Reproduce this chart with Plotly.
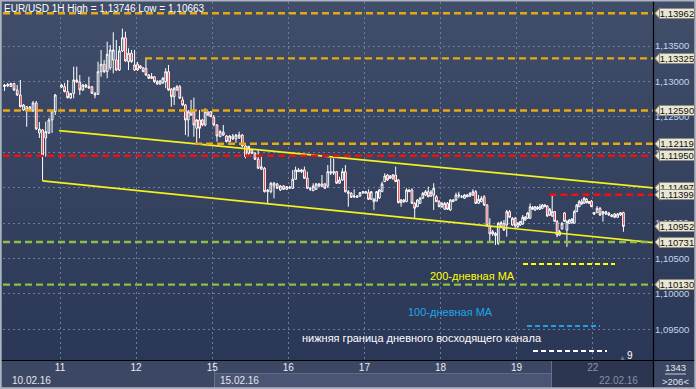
import plotly.graph_objects as go

# ---------------- data ----------------
day_ticks = [1, 2, 3, 4, 5, 6, 7, 8]          # trading-day index (Feb 10 = 0)
day_labels = ["11", "12", "15", "16", "17", "18", "19", "22"]

# hourly candles (open, high, low, close)
feb10 = [
    (1.12928, 1.12964, 1.12865, 1.12949), (1.12935, 1.12978, 1.12921, 1.12956),
    (1.12928, 1.12978, 1.12921, 1.12971), (1.12971, 1.12978, 1.12865, 1.12879),
    (1.12879, 1.12949, 1.12794, 1.12808), (1.12808, 1.13020, 1.12632, 1.12643),
    (1.12596, 1.12682, 1.12582, 1.12667), (1.12643, 1.12653, 1.12360, 1.12596),
    (1.12596, 1.12653, 1.12582, 1.12639), (1.12582, 1.12724, 1.12568, 1.12696),
    (1.12696, 1.12724, 1.12314, 1.12328), (1.12272, 1.12427, 1.12201, 1.12328),
    (1.12314, 1.12328, 1.11594, 1.11960), (1.12201, 1.12431, 1.11936, 1.12290),
    (1.12272, 1.12483, 1.12258, 1.12455), (1.12455, 1.12596, 1.12272, 1.12582),
    (1.12572, 1.12823, 1.12525, 1.12808),
]
feb11 = [
    (1.12921, 1.12964, 1.12907, 1.12949), (1.12925, 1.12978, 1.12844, 1.12855),
    (1.12855, 1.13020, 1.12759, 1.12770), (1.12766, 1.12837, 1.12752, 1.12830),
    (1.12830, 1.13208, 1.12762, 1.13020), (1.13020, 1.13208, 1.12978, 1.12992),
    (1.12992, 1.13090, 1.12808, 1.12879), (1.12879, 1.12964, 1.12865, 1.12949),
    (1.12949, 1.12964, 1.12907, 1.12921), (1.12907, 1.13066, 1.12893, 1.12925),
    (1.12925, 1.12935, 1.12823, 1.12832), (1.12832, 1.12851, 1.12762, 1.12808),
    (1.12818, 1.13279, 1.12808, 1.13137), (1.13137, 1.13444, 1.13066, 1.13242),
    (1.13242, 1.13303, 1.13118, 1.13137), (1.13137, 1.13561, 1.13044, 1.13383),
    (1.13190, 1.13514, 1.13161, 1.13444), (1.13303, 1.13694, 1.13114, 1.13444),
    (1.13303, 1.13585, 1.13147, 1.13161), (1.13161, 1.13500, 1.13147, 1.13430),
    (1.13430, 1.13746, 1.13416, 1.13617), (1.13617, 1.13702, 1.13275, 1.13289),
    (1.13279, 1.13468, 1.13161, 1.13397), (1.13397, 1.13444, 1.13261, 1.13279),
    (1.13161, 1.13444, 1.13147, 1.13232),
]
feb12 = [
    (1.13242, 1.13275, 1.13147, 1.13161), (1.13218, 1.13232, 1.13175, 1.13190),
    (1.13190, 1.13204, 1.13133, 1.13137), (1.13186, 1.13327, 1.13076, 1.13090),
    (1.13090, 1.13104, 1.13034, 1.13044), (1.13044, 1.13118, 1.13034, 1.13066),
    (1.13066, 1.13076, 1.12978, 1.12996), (1.12996, 1.13020, 1.12949, 1.12964),
    (1.12964, 1.13020, 1.12949, 1.13006), (1.12978, 1.13062, 1.12964, 1.13044),
    (1.12996, 1.13186, 1.12903, 1.13137), (1.13137, 1.13232, 1.12865, 1.12879),
    (1.12889, 1.12907, 1.12643, 1.12784), (1.12784, 1.12921, 1.12667, 1.12903),
    (1.12879, 1.12949, 1.12865, 1.12925), (1.12925, 1.12949, 1.12752, 1.12762),
    (1.12738, 1.12784, 1.12653, 1.12667), (1.12667, 1.12682, 1.12243, 1.12455),
    (1.12455, 1.12596, 1.12219, 1.12572), (1.12596, 1.12738, 1.12511, 1.12525),
    (1.12572, 1.12770, 1.12219, 1.12384), (1.12338, 1.12469, 1.12126, 1.12455),
    (1.12455, 1.12596, 1.12197, 1.12338), (1.12455, 1.12469, 1.12365, 1.12384),
    (1.12384, 1.12621, 1.12365, 1.12572), (1.12568, 1.12582, 1.12511, 1.12525),
    (1.12572, 1.12582, 1.12497, 1.12501),
]
feb15 = [
    (1.12493, 1.12525, 1.12365, 1.12384), (1.12384, 1.12398, 1.12149, 1.12229),
    (1.12219, 1.12314, 1.12215, 1.12290), (1.12285, 1.12384, 1.12229, 1.12243),
    (1.12229, 1.12243, 1.12138, 1.12149), (1.12149, 1.12243, 1.12138, 1.12229),
    (1.12229, 1.12258, 1.12173, 1.12187), (1.12187, 1.12258, 1.12131, 1.12243),
    (1.12201, 1.12290, 1.12187, 1.12243), (1.12243, 1.12258, 1.12074, 1.12088),
    (1.12088, 1.12102, 1.11914, 1.11936), (1.11984, 1.12088, 1.11936, 1.12083),
    (1.12031, 1.12046, 1.11974, 1.11984), (1.11984, 1.12003, 1.11890, 1.11900),
    (1.11900, 1.12041, 1.11763, 1.11773), (1.11759, 1.11960, 1.11749, 1.11795),
    (1.11773, 1.11792, 1.11431, 1.11442), (1.11442, 1.11480, 1.11278, 1.11466),
    (1.11442, 1.11580, 1.11419, 1.11562), (1.11523, 1.11580, 1.11349, 1.11562),
    (1.11552, 1.11566, 1.11480, 1.11490), (1.11466, 1.11537, 1.11452, 1.11523),
    (1.11523, 1.11537, 1.11466, 1.11476), (1.11476, 1.11523, 1.11466, 1.11513),
]
feb16 = [
    (1.11509, 1.11523, 1.11480, 1.11495), (1.11490, 1.11749, 1.11480, 1.11618),
    (1.11618, 1.11796, 1.11608, 1.11749), (1.11749, 1.11777, 1.11721, 1.11725),
    (1.11725, 1.11763, 1.11706, 1.11749), (1.11749, 1.11796, 1.11622, 1.11632),
    (1.11632, 1.11725, 1.11480, 1.11490), (1.11490, 1.11509, 1.11452, 1.11480),
    (1.11456, 1.11562, 1.11452, 1.11523), (1.11476, 1.11566, 1.11466, 1.11552),
    (1.11552, 1.11566, 1.11509, 1.11523), (1.11513, 1.11678, 1.11509, 1.11552),
    (1.11552, 1.11566, 1.11480, 1.11490), (1.11523, 1.11819, 1.11495, 1.11725),
    (1.11725, 1.11914, 1.11678, 1.11706), (1.11706, 1.11914, 1.11678, 1.11725),
    (1.11725, 1.11735, 1.11552, 1.11562), (1.11562, 1.11654, 1.11552, 1.11608),
    (1.11608, 1.11773, 1.11594, 1.11725), (1.11725, 1.11819, 1.11431, 1.11442),
    (1.11442, 1.11466, 1.11230, 1.11419), (1.11419, 1.11438, 1.11353, 1.11363),
    (1.11367, 1.11476, 1.11353, 1.11381), (1.11381, 1.11395, 1.11353, 1.11363),
    (1.11381, 1.11438, 1.11367, 1.11428), (1.11428, 1.11452, 1.11410, 1.11442),
]
feb17 = [
    (1.11424, 1.11452, 1.11410, 1.11442), (1.11428, 1.11476, 1.11325, 1.11335),
    (1.11335, 1.11452, 1.11325, 1.11442), (1.11335, 1.11353, 1.11184, 1.11301),
    (1.11310, 1.11452, 1.11306, 1.11442), (1.11353, 1.11480, 1.11339, 1.11466),
    (1.11442, 1.11584, 1.11438, 1.11552), (1.11584, 1.11702, 1.11580, 1.11664),
    (1.11678, 1.11692, 1.11594, 1.11608), (1.11664, 1.11678, 1.11622, 1.11632),
    (1.11632, 1.11692, 1.11608, 1.11678), (1.11678, 1.11796, 1.11580, 1.11584),
    (1.11608, 1.11622, 1.11278, 1.11287), (1.11287, 1.11339, 1.11230, 1.11325),
    (1.11325, 1.11339, 1.11283, 1.11301), (1.11301, 1.11491, 1.11297, 1.11466),
    (1.11466, 1.11480, 1.11438, 1.11442), (1.11466, 1.11491, 1.11269, 1.11278),
    (1.11278, 1.11297, 1.11067, 1.11208), (1.11230, 1.11339, 1.11226, 1.11325),
    (1.11278, 1.11367, 1.11269, 1.11350), (1.11350, 1.11438, 1.11339, 1.11419),
    (1.11395, 1.11466, 1.11381, 1.11442), (1.11442, 1.11513, 1.11367, 1.11370),
    (1.11381, 1.11466, 1.11367, 1.11438), (1.11395, 1.11562, 1.11184, 1.11491),
    (1.11370, 1.11395, 1.11297, 1.11301), (1.11301, 1.11325, 1.11226, 1.11230),
]
feb18 = [
    (1.11230, 1.11297, 1.11212, 1.11278), (1.11194, 1.11297, 1.11184, 1.11278),
    (1.11278, 1.11297, 1.11184, 1.11194), (1.11184, 1.11339, 1.11170, 1.11325),
    (1.11325, 1.11339, 1.11297, 1.11301), (1.11325, 1.11428, 1.11311, 1.11395),
    (1.11381, 1.11442, 1.11350, 1.11395), (1.11367, 1.11395, 1.11353, 1.11370),
    (1.11350, 1.11410, 1.11339, 1.11395), (1.11395, 1.11410, 1.11367, 1.11370),
    (1.11381, 1.11438, 1.11367, 1.11419), (1.11395, 1.11476, 1.11381, 1.11442),
    (1.11442, 1.11466, 1.11269, 1.11278), (1.11278, 1.11395, 1.11269, 1.11335),
    (1.11301, 1.11381, 1.11294, 1.11350), (1.11370, 1.11395, 1.11240, 1.11254),
    (1.11254, 1.11269, 1.10944, 1.10958), (1.10948, 1.11067, 1.10736, 1.10845),
    (1.10845, 1.10901, 1.10817, 1.10877), (1.10854, 1.10873, 1.10689, 1.10822),
    (1.10713, 1.11015, 1.10689, 1.10996), (1.10948, 1.11029, 1.10929, 1.11005),
    (1.10996, 1.11043, 1.10887, 1.10901), (1.10972, 1.11184, 1.10807, 1.11160),
    (1.11160, 1.11184, 1.11071, 1.11081), (1.10972, 1.11085, 1.10958, 1.11067),
    (1.11067, 1.11085, 1.10912, 1.10958),
]
feb19 = [
    (1.10948, 1.11015, 1.10929, 1.10996), (1.10972, 1.11029, 1.10958, 1.11019),
    (1.10986, 1.11113, 1.10972, 1.11081), (1.11043, 1.11099, 1.11029, 1.11081),
    (1.11067, 1.11156, 1.11057, 1.11142), (1.11067, 1.11278, 1.11057, 1.11230),
    (1.11221, 1.11240, 1.11184, 1.11194), (1.11184, 1.11240, 1.11170, 1.11230),
    (1.11221, 1.11240, 1.11184, 1.11199), (1.11194, 1.11269, 1.11184, 1.11230),
    (1.11208, 1.11269, 1.11198, 1.11254), (1.11254, 1.11269, 1.11226, 1.11230),
    (1.11240, 1.11254, 1.11085, 1.11099), (1.11113, 1.11212, 1.11099, 1.11194),
    (1.11099, 1.11399, 1.11085, 1.11160), (1.11160, 1.11170, 1.11015, 1.11024),
    (1.11019, 1.11043, 1.10798, 1.10830), (1.10830, 1.10901, 1.10817, 1.10877),
    (1.10917, 1.11015, 1.10907, 1.10996), (1.11142, 1.11156, 1.11015, 1.11024),
    (1.10901, 1.11043, 1.10663, 1.11019), (1.10996, 1.11057, 1.10986, 1.11043),
    (1.11005, 1.11071, 1.10986, 1.11053), (1.10996, 1.11184, 1.10986, 1.11160),
    (1.11160, 1.11269, 1.11156, 1.11254), (1.11230, 1.11325, 1.11226, 1.11301),
    (1.11301, 1.11335, 1.11254, 1.11269), (1.11278, 1.11367, 1.11269, 1.11350),
    (1.11335, 1.11353, 1.11278, 1.11287), (1.11278, 1.11311, 1.11269, 1.11301),
    (1.11310, 1.11325, 1.11226, 1.11230),
]
feb22 = [
    (1.11146, 1.11156, 1.11113, 1.11126), (1.11146, 1.11240, 1.11142, 1.11208),
    (1.11208, 1.11226, 1.11099, 1.11113), (1.11127, 1.11170, 1.11019, 1.11160),
    (1.11160, 1.11170, 1.11113, 1.11127), (1.11142, 1.11153, 1.11099, 1.11113),
    (1.11113, 1.11127, 1.11081, 1.11090), (1.11127, 1.11142, 1.11067, 1.11081),
    (1.11081, 1.11142, 1.11071, 1.11127), (1.11113, 1.11156, 1.11099, 1.11146),
    (1.11146, 1.11160, 1.10877, 1.10952),
]

# (day index, first hour, bars per day or None = spread over day, candles)
sessions = [
    (0, 6, 24, feb10), (1, 0, None, feb11), (2, 0, None, feb12),
    (3, 0, None, feb15), (4, 0, None, feb16), (5, 0, None, feb17),
    (6, 0, None, feb18), (7, 0, None, feb19), (8, 0, 26, feb22),
]

orange_levels = [1.13962, 1.13325, 1.12590, 1.12119]
orange_from = [None, 2.117, None, 2.774]
red_levels = [1.11950, 1.11399]
red_from = [None, 7.43]
green_levels = [1.10731, 1.10130]
upper_channel_x = [0.987, 8.792]
upper_channel_y = [1.12304, 1.11497]
lower_channel_x = [0.771, 8.792]
lower_channel_y = [1.11594, 1.10722]
last_price = 1.10952
title_text = "EUR/USD 1H High = 1,13746 Low = 1,10663"

# ---------------- geometry helpers (layout only) ----------------
W, H = 696, 389
PL, PR, PT, PB = 3, 653, 2, 360


def px2x(px):
    return (px - PL) / (PR - PL)


def px2y(py):
    return (PB - py) / (PB - PT)


FONT = "Liberation Sans, Arial, sans-serif"

xs, o, h, l, c = [], [], [], [], []
for day, first, per_day, bars in sessions:
    n = per_day or len(bars)
    for k, (bo, bh, bl, bc) in enumerate(bars):
        xs.append(day + (first + k + 0.5) / n)
        o.append(bo); h.append(bh); l.append(bl); c.append(bc)

fig = go.Figure()
fig.add_trace(go.Candlestick(
    x=xs, open=o, high=h, low=l, close=c,
    increasing=dict(line=dict(color="#ffffff", width=1), fillcolor="rgba(0,0,0,0)"),
    decreasing=dict(line=dict(color="#ffffff", width=1), fillcolor="#f01010"),
    whiskerwidth=0, showlegend=False, hoverinfo="skip"))

for cx, cy in [(upper_channel_x, upper_channel_y), (lower_channel_x, lower_channel_y)]:
    fig.add_trace(go.Scatter(x=cx, y=cy, mode="lines",
                             line=dict(color="#f2f21c", width=1.7),
                             showlegend=False, hoverinfo="skip"))

shapes = []
# background gradient
NSTRIP = 36
top_rgb, bot_rgb = (64, 78, 106), (43, 55, 86)
for i in range(NSTRIP):
    t = i / (NSTRIP - 1)
    col = "rgb(%d,%d,%d)" % tuple(round(a + (b - a) * t) for a, b in zip(top_rgb, bot_rgb))
    y0p = PB * i / NSTRIP
    y1p = PB * (i + 1) / NSTRIP + 0.6
    shapes.append(dict(type="rect", xref="paper", yref="paper", layer="below",
                       x0=px2x(0), x1=px2x(W), y0=px2y(y1p), y1=px2y(y0p),
                       fillcolor=col, line=dict(width=0)))


def prect(x0, y0, x1, y1, fill, lw=0, lc=None, layer="below"):
    return dict(type="rect", xref="paper", yref="paper", layer=layer,
                x0=px2x(x0), x1=px2x(x1), y0=px2y(y1), y1=px2y(y0),
                fillcolor=fill, line=dict(width=lw, color=lc or fill))


def pline(x0, y0, x1, y1, color, width=1, dash=None, layer="above"):
    ln = dict(color=color, width=width)
    if dash:
        ln["dash"] = dash
    return dict(type="line", xref="paper", yref="paper", layer=layer,
                x0=px2x(x0), x1=px2x(x1), y0=px2y(y0), y1=px2y(y1), line=ln)


# bottom strip
shapes.append(prect(0, 360, W, H, "#3c4764"))
shapes.append(prect(214, 373, 551, 388, "#4a5573"))
shapes.append(pline(214, 373.5, 551, 373.5, "#5f6a88", 1, layer="below"))
shapes.append(prect(551, 361, 653, 388, "#2d3651"))
shapes.append(pline(214.5, 361, 214.5, 388, "#66718e", 1, layer="below"))
shapes.append(pline(551.5, 361, 551.5, 388, "#66718e", 1, layer="below"))
shapes.append(pline(665, 374, 686, 374, "#c8cedc", 1))

# level lines
DASH = "7px,4px"


def level(lv, fr, color):
    if fr is None:
        return dict(type="line", xref="paper", yref="y", x0=0, x1=1, y0=lv, y1=lv,
                    layer="above", line=dict(color=color, width=2.4, dash=DASH))
    return dict(type="line", xref="x", yref="y", x0=fr, x1=9, y0=lv, y1=lv,
                layer="above", line=dict(color=color, width=2.4, dash=DASH))


for lv, fr in zip(orange_levels, orange_from):
    shapes.append(level(lv, fr, "#e8a912"))
for lv, fr in zip(red_levels, red_from):
    shapes.append(level(lv, fr, "#ee1111"))
for lv in green_levels:
    shapes.append(level(lv, None, "#8cbf45"))

# legend swatches
shapes.append(pline(523, 264, 615, 264, "#ffff00", 2.2, "5px,3px"))
shapes.append(pline(527, 326, 600, 326, "#1aa3e8", 2.2, "5px,3px"))
shapes.append(pline(533, 351, 607, 351, "#ffffff", 2.2, "5px,3px"))

# frame lines
shapes.append(pline(0, 360.5, W, 360.5, "#000000", 1.2))
shapes.append(pline(653.5, 0, 653.5, 388, "#000000", 1.2))
shapes.append(dict(type="rect", xref="paper", yref="paper", layer="above",
                   x0=px2x(0.8), x1=px2x(695.2), y0=px2y(388.2), y1=px2y(0.6),
                   fillcolor="rgba(0,0,0,0)", line=dict(color="#aeb3c0", width=1.8)))

# price tags
tag_values = orange_levels + red_levels[:1] + [upper_channel_y[-1]] + red_levels[1:] + [last_price] + green_levels
annotations = []
for v in tag_values:
    shapes.append(dict(type="path", xref="paper", xsizemode="pixel", xanchor=1,
                       yref="y", ysizemode="pixel", yanchor=v,
                       path="M 2 0 L 7 5.5 L 7 -5.5 Z", layer="above",
                       fillcolor="#e9e6d3", line=dict(color="#8f8c7e", width=1)))
    annotations.append(dict(xref="paper", yref="y", x=1, y=v, xanchor="left", yanchor="middle",
                            xshift=6, text=("%.5f" % v).replace(".", ","), showarrow=False,
                            font=dict(family=FONT, size=9.5, color="#111111"),
                            bgcolor="#e9e6d3", bordercolor="#8f8c7e", borderwidth=1,
                            borderpad=0, width=34, height=9))


def note(px, py, text, color, size, anchor="center"):
    annotations.append(dict(xref="paper", yref="paper", x=px2x(px), y=px2y(py), text=text,
                            showarrow=False, xanchor=anchor, yanchor="middle",
                            font=dict(family=FONT, size=size, color=color)))


note(2, 8, title_text, "#ffffff", 10, "left")
note(472, 276, "200-дневная МА", "#ffff00", 11)
note(450, 312, "100-дневная МА", "#1ea6ec", 11)
note(422, 338, "нижняя граница дневного восходящего канала", "#ffffff", 11)
note(630, 355, "9", "#ffffff", 10)
note(622, 357, "▲", "#6f7891", 7)
note(10, 380, "10.02.16", "#e3e7ef", 10, "left")
note(218, 380, "15.02.16", "#e3e7ef", 10, "left")
note(597, 380, "22.02.16", "#8a90a3", 10, "left")
note(675.5, 367.5, "1343", "#e3e7ef", 9.5)
note(675.5, 381, "&gt;206&lt;", "#e3e7ef", 9.5)

ticktext = day_labels[:-1] + ['<span style="color:#8a90a3">%s</span>' % day_labels[-1]]

fig.update_layout(
    width=W, height=H, margin=dict(l=PL, r=W - PR, t=PT, b=H - PB),
    paper_bgcolor="#2e3a57", plot_bgcolor="rgba(0,0,0,0)",
    separators=", ", hovermode=False, showlegend=False,
    boxgap=0.0,
    shapes=shapes, annotations=annotations,
    xaxis=dict(range=[1 + (PL - 60) / 76.1, 1 + (PR - 60) / 76.1],
               rangeslider=dict(visible=False), tickvals=day_ticks, ticktext=ticktext,
               showgrid=True, gridcolor="#6c7c9b", griddash="2px,3px", gridwidth=1,
               zeroline=False, showline=False, ticks="",
               tickfont=dict(family=FONT, size=10, color="#e8ecf4"), fixedrange=True),
    yaxis=dict(range=[1.135 - (PB - 46) / 7080, 1.135 + (46 - PT) / 7080], side="right",
               tickvals=[1.095, 1.100, 1.105, 1.110, 1.115, 1.120, 1.125, 1.130, 1.135],
               tickformat=".5f", showgrid=True, gridcolor="#6c7c9b", griddash="2px,3px",
               gridwidth=1, zeroline=False, showline=False, ticks="",
               ticklabelstandoff=1,
               tickfont=dict(family=FONT, size=9.5, color="#c3d5ef"), fixedrange=True),
    font=dict(family=FONT),
)

fig.write_html("out.html", config=dict(displayModeBar=False),
               post_script="document.body.style.margin='0';document.body.style.padding='0';")
